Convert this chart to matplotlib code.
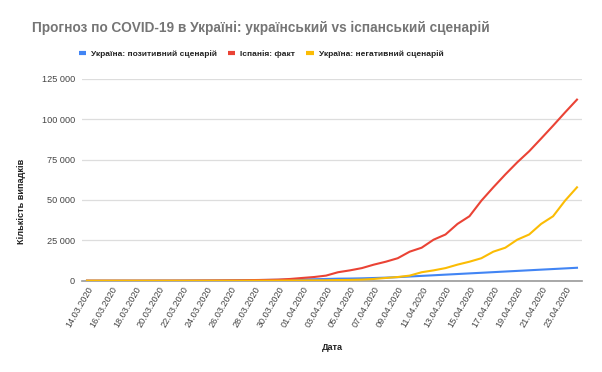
import matplotlib
matplotlib.use("Agg")
import matplotlib.pyplot as plt
from matplotlib.lines import Line2D
import datetime as dt

plt.rcParams['font.family'] = ['Liberation Sans', 'DejaVu Sans']

start = dt.date(2020, 3, 14)
dates = [(start + dt.timedelta(days=i)).strftime("%d.%m.%Y") for i in range(42)]

ukraine_positive = [3, 3, 7, 14, 16, 26, 47, 47, 73, 84, 113, 145, 218, 311, 356, 475,
                    548, 645, 794, 897, 1072, 1251, 1319, 1462, 1668, 1892, 2203,
                    2590, 2980, 3360, 3750, 4130, 4520, 4900, 5290, 5680, 6060,
                    6450, 6840, 7220, 7610, 8000]
spain_fact = [2, 2, 2, 3, 7, 13, 15, 32, 45, 84, 120, 165, 222, 259, 400, 500, 673,
              1073, 1695, 2277, 3146, 5232, 6391, 7798, 9942, 11748, 13910, 17963,
              20410, 25374, 28603, 35136, 39885, 49515, 57786, 65719, 73235, 80110,
              87956, 95923, 104118, 112065]
ukraine_negative = [2, 2, 2, 2, 2, 2, 2, 2, 2, 2, 2, 3, 7, 13, 15, 32, 45, 84, 120, 165,
                    222, 259, 400, 500, 673, 1073, 1695, 2277, 3146, 5232, 6391, 7798,
                    9942, 11748, 13910, 17963, 20410, 25374, 28603, 35136, 39885, 49515,
                    57786][1:]

series_names = ["Україна: позитивний сценарій", "Іспанія: факт", "Україна: негативний сценарій"]
series_colors = ["#4285F4", "#EA4335", "#FBBC04"]
yticks = [0, 25000, 50000, 75000, 100000, 125000]
ytick_labels = ["0", "25 000", "50 000", "75 000", "100 000", "125 000"]

fig = plt.figure(figsize=(6.02, 3.72), dpi=100)
ax = fig.add_axes([82/602, 1 - 280.7/372, 500/602, 202/372])

x = list(range(len(dates)))
for vals, name, col in zip([ukraine_positive, spain_fact, ukraine_negative], series_names, series_colors):
    ax.plot(x, vals, color=col, lw=1.5, label=name, solid_joinstyle='round')

ax.set_xlim(-0.42, 41.42)
ax.set_ylim(0, 125000)
ax.set_yticks(yticks)
ax.set_yticklabels(ytick_labels)
ax.set_xticks(x[::2])
ax.set_xticklabels(dates[::2], rotation=60, ha='right', rotation_mode='anchor')
ax.tick_params(axis='both', length=0, labelsize=6.6, labelcolor='#444444')
ax.tick_params(axis='y', pad=5)
ax.tick_params(axis='x', pad=3)
for s in ['top', 'right', 'left']:
    ax.spines[s].set_visible(False)
ax.spines['bottom'].set_color('#999999')
ax.spines['bottom'].set_linewidth(1.2)
ax.spines['bottom'].set_zorder(1)
ax.grid(axis='y', color='#dddddd', lw=0.9)
ax.set_axisbelow(True)

fig.text(261/602, 1 - 28/372, "Прогноз по COVID-19 в Україні: український vs іспанський сценарій",
         ha='center', va='center', fontsize=9.8, fontweight='bold', color='#757575')

handles = [Line2D([0], [0], color=c, lw=3, solid_capstyle='butt') for c in series_colors]
leg = fig.legend(handles, series_names, loc='center', bbox_to_anchor=(261/602, 1 - 54/372),
                 ncol=3, frameon=False, handlelength=0.9, handletextpad=0.6,
                 columnspacing=1.3, prop={'size': 6.0, 'weight': 'bold'})
for t in leg.get_texts():
    t.set_color('#222222')

fig.text(22/602, 1 - 201/372, "Кількість випадків", rotation=90, ha='center', va='center',
         fontsize=6.6, fontweight='bold', color='#222222')
fig.text(332/602, 1 - 348/372, "Дата", ha='center', va='center',
         fontsize=6.6, fontweight='bold', color='#222222')

fig.savefig("out.png", dpi=100, facecolor='white')
